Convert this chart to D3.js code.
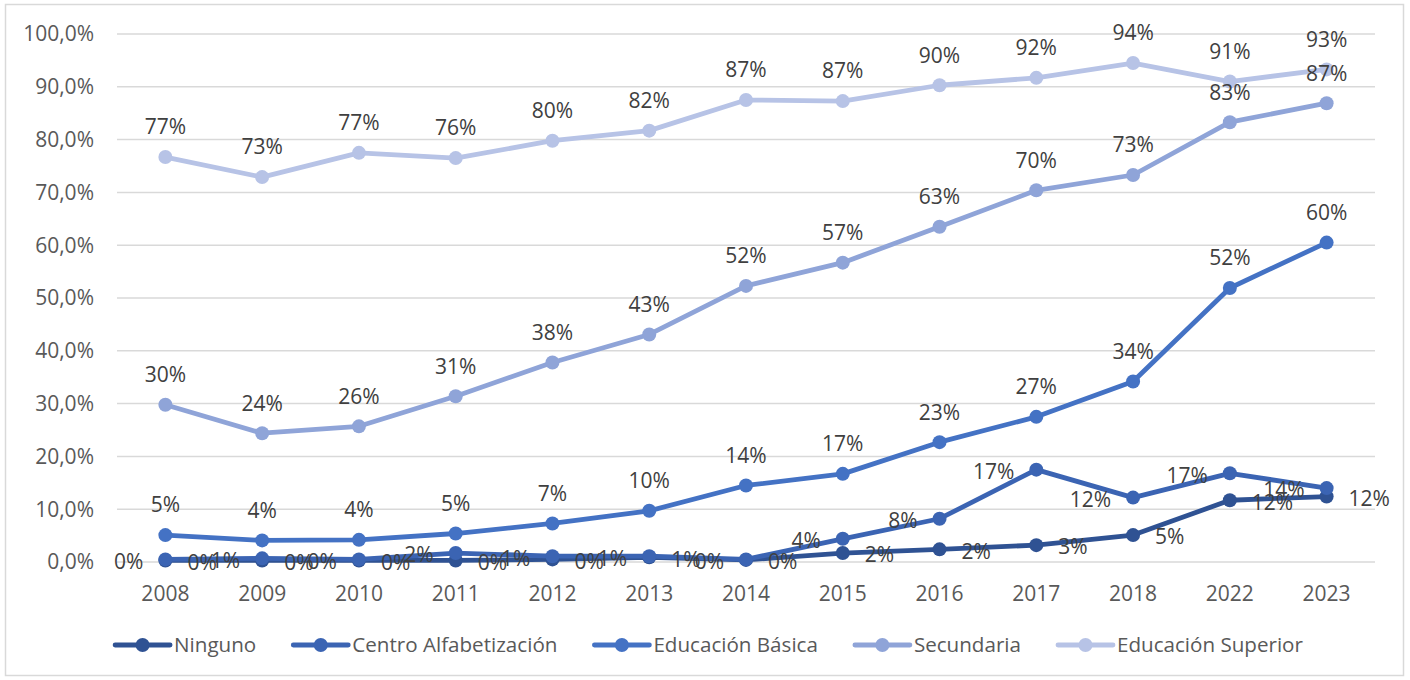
<!DOCTYPE html>
<html><head><meta charset="utf-8">
<script src="https://cdn.jsdelivr.net/npm/d3@7/dist/d3.min.js"></script>
<style>body{margin:0;background:#fff}svg{display:block}text{font-family:"Open Sans",sans-serif}</style>
</head><body>
<svg id="c" width="1410" height="680"></svg>
<script>
const years = ["2008","2009","2010","2011","2012","2013","2014","2015","2016","2017","2018","2022","2023"];
const seriesNames = ["Ninguno","Centro Alfabetización","Educación Básica","Secundaria","Educación Superior"];
const ninguno     = [0.2,0.2,0.2,0.2,0.4,0.8,0.3,1.6,2.3,3.1,5.0,11.6,12.3];
const centro      = [0.4,0.6,0.4,1.6,1.0,1.0,0.4,4.3,8.1,17.4,12.1,16.7,13.9];
const basica      = [5.0,4.0,4.1,5.3,7.2,9.6,14.4,16.6,22.6,27.4,34.1,51.8,60.4];
const secundaria  = [29.7,24.3,25.6,31.3,37.7,43.0,52.2,56.6,63.4,70.3,73.2,83.2,86.8];
const superior    = [76.6,72.8,77.4,76.4,79.7,81.6,87.4,87.2,90.2,91.6,94.4,90.9,93.2];
const yTicks = [0,10,20,30,40,50,60,70,80,90,100];

const colors = ["#2f5293","#3b64b3","#4472c4","#8fa4d8","#b7c3e6"];
const labelPos = ["right","left","top","top","top"];
const data = [ninguno,centro,basica,secundaria,superior];

const svg = d3.select("#c");
svg.append("rect").attr("x",5.5).attr("y",4.5).attr("width",1398).attr("height",671)
  .attr("fill","#fff").attr("stroke","#d9d9d9").attr("stroke-width",1.5);

const x0 = 117, x1 = 1375, yTop = 33.5, yBot = 561.5;
const x = d3.scaleBand().domain(years).range([x0,x1]);
const cx = d => x(d) + x.bandwidth()/2;
const y = d3.scaleLinear().domain([0,100]).range([yBot,yTop]);

const yAxis = d3.axisLeft(y).tickValues(yTicks).tickSize(-(x1-x0))
  .tickFormat(d => d.toFixed(1).replace(".",",") + "%").tickPadding(23);
const ga = svg.append("g").attr("transform",`translate(${x0},0)`).call(yAxis);
ga.select(".domain").remove();
ga.selectAll(".tick line").attr("stroke","#d9d9d9").attr("stroke-width",1.5);
ga.selectAll(".tick text").attr("fill","#595959").style("font-size","21px").attr("dy","0.35em");

const xAxis = d3.axisBottom(x).tickSize(0).tickPadding(0);
const gx = svg.append("g").attr("transform",`translate(0,${yBot})`).call(xAxis);
gx.select(".domain").remove();
gx.selectAll(".tick text").attr("fill","#595959").style("font-size","21px").attr("dy","39px");

const line = d3.line().x((d,i)=>cx(years[i])).y(d=>y(d));

data.forEach((vals,s)=>{
  const g = svg.append("g");
  g.append("path").datum(vals).attr("d",line).attr("fill","none")
    .attr("stroke",colors[s]).attr("stroke-width",4.8).attr("stroke-linejoin","round").attr("stroke-linecap","round");
  g.selectAll("circle").data(vals).join("circle")
    .attr("cx",(d,i)=>cx(years[i])).attr("cy",d=>y(d)).attr("r",7).attr("fill",colors[s]);
});

const lg = svg.append("g");
data.forEach((vals,s)=>{
  const pos = labelPos[s];
  lg.selectAll(null).data(vals).join("text")
    .attr("x",(d,i)=> pos==="top" ? cx(years[i]) : pos==="left" ? cx(years[i]) - 22 : cx(years[i]) + 22)
    .attr("y",d=> pos==="top" ? y(d) - 30 : y(d) + 2)
    .attr("dy","0.35em")
    .attr("text-anchor", pos==="top" ? "middle" : pos==="left" ? "end" : "start")
    .attr("fill","#404040").style("font-size","21px")
    .text(d => Math.round(d) + "%");
});

const leg = svg.append("g");
let cur = 0;
seriesNames.forEach((n,s)=>{
  const it = leg.append("g");
  it.append("line").attr("x1",0).attr("x2",55).attr("y1",0).attr("y2",0)
    .attr("stroke",colors[s]).attr("stroke-width",4.8).attr("stroke-linecap","round");
  it.append("circle").attr("cx",27.5).attr("cy",0).attr("r",7).attr("fill",colors[s]);
  const t = it.append("text").attr("x",59).attr("y",0).attr("dy","0.35em")
    .attr("fill","#595959").style("font-size","20.6px").text(n);
  const w = 59 + t.node().getComputedTextLength();
  it.attr("transform",`translate(${cur},0)`);
  cur += w + 37;
});
const total = cur - 37;
leg.attr("transform",`translate(${709 - total/2},645)`);
</script>
</body></html>
